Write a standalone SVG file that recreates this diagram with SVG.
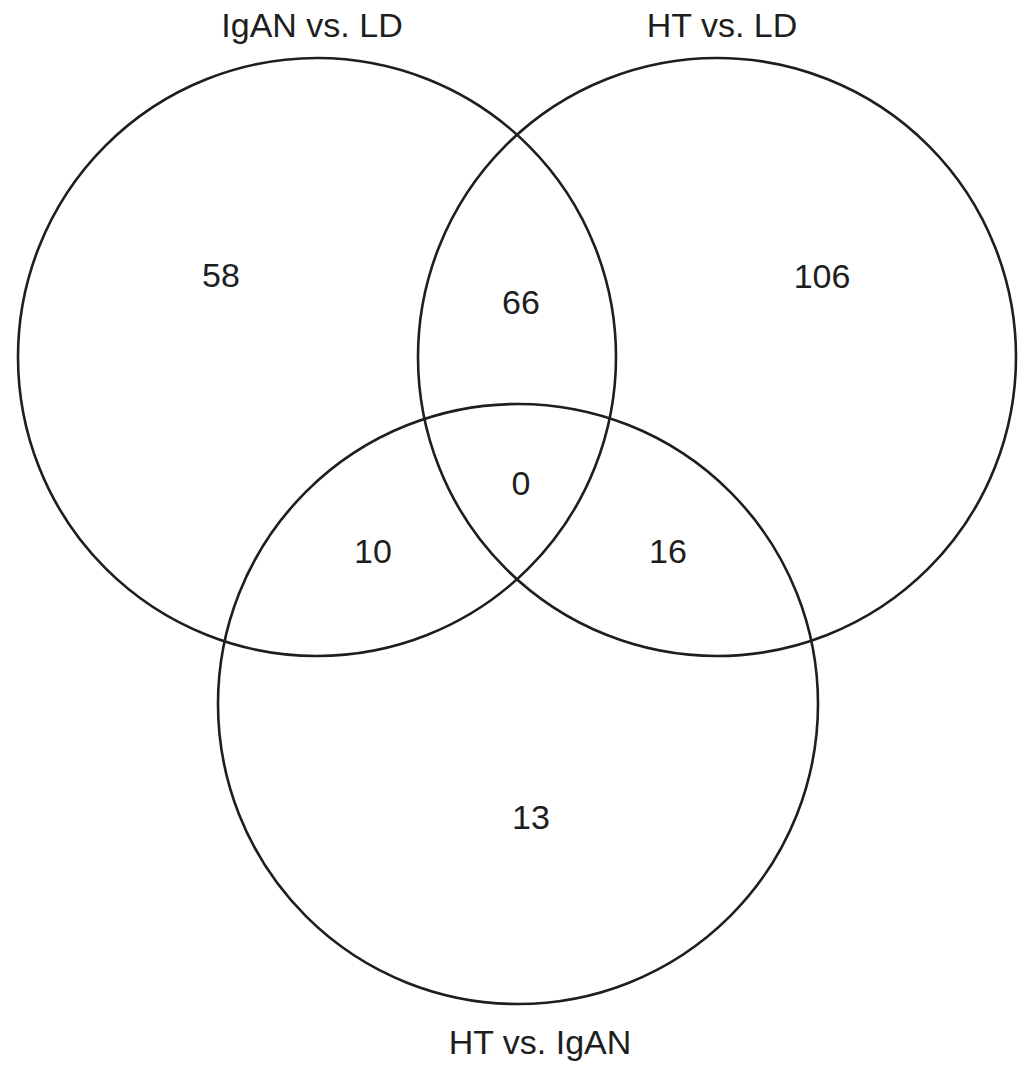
<svg xmlns="http://www.w3.org/2000/svg" width="1033" height="1075" viewBox="0 0 1033 1075">
<style>
.c{fill:none;stroke:#1e1e1e;stroke-width:2.6}
.t{font-family:"Liberation Sans",Arial,sans-serif;font-size:34px;fill:#1e1e1e;text-anchor:middle}
</style>
<rect width="1033" height="1075" fill="#fff"/>
<g id="set-igan-ld">
<circle class="c" cx="317" cy="357" r="299"/>
<text class="t" x="312" y="37">IgAN vs. LD</text>
</g>
<g id="set-ht-ld">
<circle class="c" cx="717" cy="357" r="299"/>
<text class="t" x="722" y="37">HT vs. LD</text>
</g>
<g id="set-ht-igan">
<circle class="c" cx="518" cy="704" r="300"/>
<text class="t" x="540" y="1054">HT vs. IgAN</text>
</g>
<g id="counts">
<text class="t" x="221" y="287">58</text>
<text class="t" x="521" y="314">66</text>
<text class="t" x="822" y="288">106</text>
<text class="t" x="521" y="495">0</text>
<text class="t" x="373" y="563">10</text>
<text class="t" x="668" y="563">16</text>
<text class="t" x="531" y="829">13</text>
</g>
<g id="connectors"/>
</svg>
